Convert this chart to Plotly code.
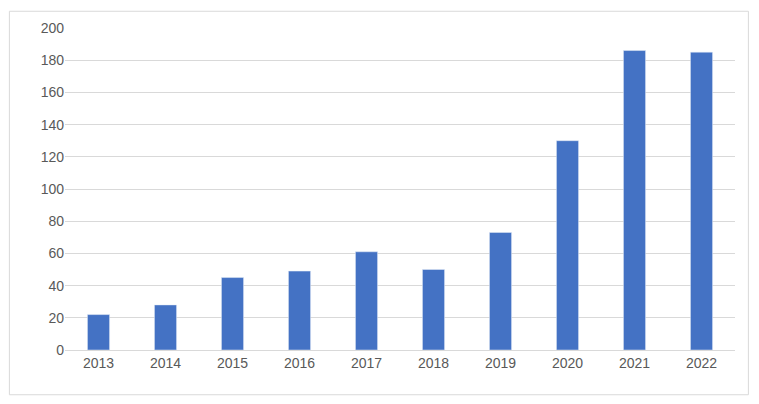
import plotly.graph_objects as go

years = ["2013","2014","2015","2016","2017","2018","2019","2020","2021","2022"]
values = [22, 28, 45, 49, 61, 50, 73, 130, 186, 185]
y_ticks = [0, 20, 40, 60, 80, 100, 120, 140, 160, 180, 200]

fig = go.Figure(go.Bar(x=years, y=values, marker_color="#4472C4", width=0.33))
fig.update_layout(
    width=743, height=388, margin=dict(l=57, r=16, t=18, b=46),
    paper_bgcolor="white", plot_bgcolor="white", showlegend=False,
    font=dict(family="Liberation Sans, Arial", size=14, color="#595959"),
    xaxis=dict(showgrid=False, showline=True, linecolor="#D9D9D9", ticks=""),
    yaxis=dict(range=[0, 200], tickvals=y_ticks, gridcolor="#D9D9D9", zeroline=False, ticks=""),
    shapes=[dict(type="rect", xref="paper", yref="paper", x0=-0.083, x1=1.02,
                 y0=-0.139, y1=1.052, line=dict(color="#D9D9D9", width=1))],
)
fig.write_html("out.html")
